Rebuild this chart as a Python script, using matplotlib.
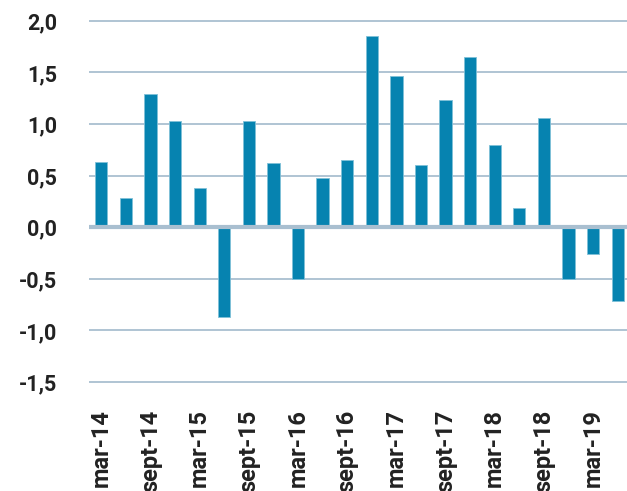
import numpy as np
import matplotlib.pyplot as plt

# quarterly values, mar-14 .. jun-19
quarters = ['mar-14', 'jun-14', 'sept-14', 'dec-14',
            'mar-15', 'jun-15', 'sept-15', 'dec-15',
            'mar-16', 'jun-16', 'sept-16', 'dec-16',
            'mar-17', 'jun-17', 'sept-17', 'dec-17',
            'mar-18', 'jun-18', 'sept-18', 'dec-18',
            'mar-19', 'jun-19']
values = [0.63, 0.28, 1.29, 1.03,
          0.38, -0.87, 1.03, 0.62,
          -0.50, 0.48, 0.65, 1.85,
          1.47, 0.60, 1.23, 1.65,
          0.80, 0.19, 1.06, -0.50,
          -0.26, -0.71]
yticks = [-1.5, -1.0, -0.5, 0.0, 0.5, 1.0, 1.5, 2.0]

plt.rcParams['font.family'] = ['Roboto', 'DejaVu Sans']

fig = plt.figure(figsize=(6.27, 4.91), dpi=100)
ax = fig.add_axes([0.142, 0.2114, 0.858, 0.7566])

x = np.arange(len(values))
grid_col = '#a9bfd0'
for t in yticks:
    if t == 0:
        continue
    ax.axhline(t, color=grid_col, lw=1.3, zorder=1)

ax.bar(x, values, width=0.5, color='#0683b0', edgecolor='#7fc0d8', linewidth=0.6, zorder=2)
ax.axhline(0, color=grid_col, lw=3, zorder=3)

ax.set_xlim(-0.5, len(values) - 0.62)
ax.set_ylim(-1.55, 2.05)

ax.set_yticks(yticks)
ax.set_yticklabels([f'{t:.1f}'.replace('.', ',') for t in yticks],
                   fontsize=15.5, fontweight='bold', color='#222222')
ax.set_xticks(x[::2])
ax.set_xticklabels(quarters[::2], rotation=90, va='top', ha='center',
                   fontsize=17, fontweight='bold', color='#222222')
ax.tick_params(axis='y', length=0, pad=23)
ax.tick_params(axis='x', length=0, pad=16)

for s in ax.spines.values():
    s.set_visible(False)

fig.savefig('out.png', dpi=100)
